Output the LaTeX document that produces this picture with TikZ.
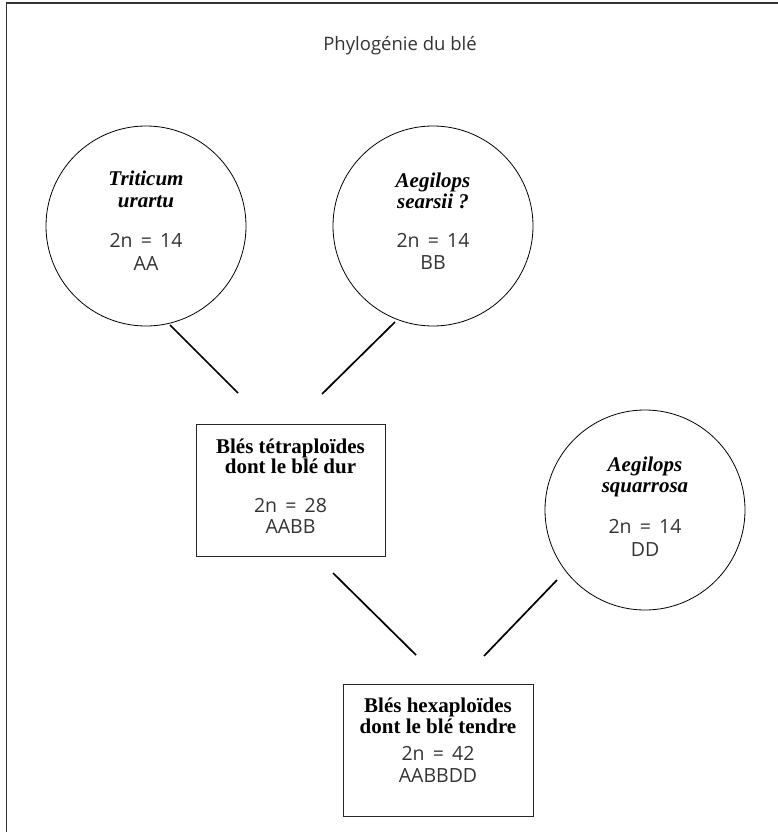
\documentclass[tikz,border=0pt]{standalone}
\usepackage{fontspec}
\setmainfont{Liberation Serif}
\newfontfamily\sansf{Open Sans}
\newcommand{\eqsp}{\hspace{0.42em}}
\begin{document}
\begin{tikzpicture}[x=1pt,y=-1pt,
  circ/.style={draw=black, line width=0.8pt, circle, minimum size=200pt, inner sep=0pt},
  boxn/.style={draw=black!85, line width=0.9pt, rectangle, inner sep=0pt},
  nm/.style={anchor=base, inner sep=0pt, font=\fontsize{21}{21}\selectfont\bfseries\itshape},
  nmup/.style={anchor=base, inner sep=0pt, font=\fontsize{21}{21}\selectfont\bfseries},
  dat/.style={anchor=base, inner sep=0pt, text=black!80, font=\sansf\fontsize{19.5}{19.5}\selectfont},
  ttl/.style={anchor=base, inner sep=0pt, text=black!80, font=\sansf\fontsize{18.5}{18.5}\selectfont},
  conn/.style={line width=1.7pt, black}]
\useasboundingbox (0,0) rectangle (778,832);
\begin{scope}
\clip (0,0) rectangle (778,832);
\draw[line width=1.6pt, black!80] (6.5,3) rectangle (800,850);
\end{scope}
% title
\node[ttl] (title) at (400,51) {Phylogénie du blé};
% circle 1
\node[circ] (c1) at (146,226) {};
\node[nm] (c1a) at (146,185) {Triticum};
\node[nm] (c1b) at (146,207) {urartu};
\node[dat] (c1c) at (146,247) {2n\eqsp=\eqsp14};
\node[dat] (c1d) at (146,270) {AA};
% circle 2
\node[circ] (c2) at (433,226) {};
\node[nm] (c2a) at (433,187) {Aegilops};
\node[nm] (c2b) at (433,208) {searsii ?};
\node[dat] (c2c) at (433,247) {2n\eqsp=\eqsp14};
\node[dat] (c2d) at (433,269) {BB};
% circle 3
\node[circ] (c3) at (645,510) {};
\node[nm] (c3a) at (645,471) {Aegilops};
\node[nm] (c3b) at (645,492) {squarrosa};
\node[dat] (c3c) at (645,533) {2n\eqsp=\eqsp14};
\node[dat] (c3d) at (645,556) {DD};
% box 1
\node[boxn, minimum width=189pt, minimum height=132pt] (b1) at (290.5,490) {};
\node[nmup] (b1a) at (290.5,453) {Blés tétraploïdes};
\node[nmup] (b1b) at (290.5,473) {dont le blé dur};
\node[dat] (b1c) at (290.5,512) {2n\eqsp=\eqsp28};
\node[dat] (b1d) at (290.5,533) {AABB};
% box 2
\node[boxn, minimum width=190pt, minimum height=132pt] (b2) at (438,750) {};
\node[nmup] (b2a) at (438,712) {Blés hexaploïdes};
\node[nmup] (b2b) at (438,733) {dont le blé tendre};
\node[dat] (b2c) at (438,760) {2n\eqsp=\eqsp42};
\node[dat] (b2d) at (438,782) {AABBDD};
% connector ends
\coordinate (l1s) at (170,325);
\coordinate (l1e) at (238,393);
\coordinate (l2s) at (395,322);
\coordinate (l2e) at (322,394);
\coordinate (l3s) at (333,573);
\coordinate (l3e) at (416,655);
\coordinate (l4s) at (557,580);
\coordinate (l4e) at (484,656);
\draw[conn] (l1s) -- (l1e);
\draw[conn] (l2s) -- (l2e);
\draw[conn] (l3s) -- (l3e);
\draw[conn] (l4s) -- (l4e);
\end{tikzpicture}
\end{document}
